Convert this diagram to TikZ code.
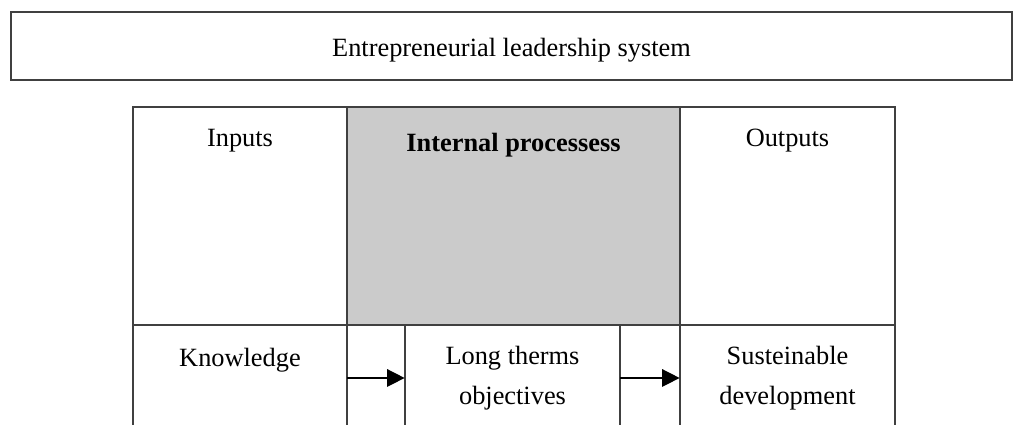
\documentclass[tikz,border=0pt]{standalone}
\usepackage{fontspec}
\setmainfont{Liberation Serif}
\usetikzlibrary{arrows.meta}
\definecolor{cellgray}{HTML}{CBCBCB}
\definecolor{linegray}{HTML}{404040}

\begin{document}
\begin{tikzpicture}[
    frame/.style={draw=linegray, line width=0.8pt},
    label/.style={font=\fontsize{15}{22.7}\selectfont, align=center, inner sep=0pt},
    arrow/.style={-{Triangle[length=3.5mm,width=3.5mm]}, draw=black, line width=0.8pt}
]
\useasboundingbox (0,0) rectangle (20.34,8.5);

% System box
\node[frame, minimum width=20.02cm, minimum height=1.36cm, label] (system) at (10.23,7.58) {};
\node[label] (systitle) at (10.23,7.5) {Entrepreneurial leadership system};

% Shaded process column
\fill[cellgray] (6.94,2.0) rectangle (13.6,6.36);

% Table lines (open at the bottom)
\draw[frame] (2.66,0) -- (2.66,6.36) -- (17.9,6.36) -- (17.9,0);
\draw[frame] (2.66,2.0) -- (17.9,2.0);
\draw[frame] (6.94,0) -- (6.94,6.36);
\draw[frame] (13.6,0) -- (13.6,6.36);
\draw[frame] (8.1,0) -- (8.1,2.0);
\draw[frame] (12.4,0) -- (12.4,2.0);

% Headers
\node[label] (inputs) at (4.8,5.68) {Inputs};
\node[label, font=\fontsize{15}{22.7}\selectfont\bfseries] (process) at (10.27,5.6) {Internal processess};
\node[label] (outputs) at (15.75,5.68) {Outputs};

% Bottom row
\node[label] (knowledge) at (4.8,1.3) {Knowledge};
\node[label, minimum width=4.3cm] (objectives) at (10.25,0.94) {Long therms\\objectives};
\node[label, minimum width=4.3cm] (develop) at (15.75,0.94) {Susteinable\\development};

% Arrows
\coordinate (inedge) at (6.94,0.94);
\draw[arrow] (inedge) -- (objectives.west);
\draw[arrow] (objectives.east) -- (develop.west);

\end{tikzpicture}
\end{document}
